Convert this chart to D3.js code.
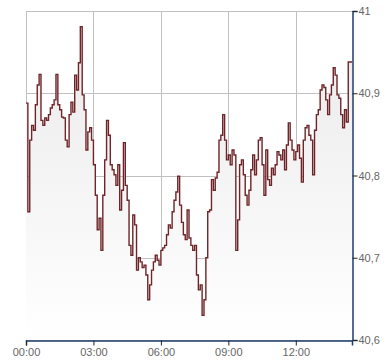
<!DOCTYPE html>
<html>
<head>
<meta charset="utf-8">
<script src="https://cdn.jsdelivr.net/npm/d3@7"></script>
<style>
  body { margin: 0; background: #fff; }
  text { font-family: "Liberation Sans", Arial, sans-serif; }
</style>
</head>
<body>
<svg id="chart" width="390" height="364"></svg>
<script>
  // minutes since 00:00, one quote every 5 minutes
  var step = 5;
  var prices = [
    40.888, 40.756, 40.843, 40.861, 40.855, 40.886, 40.910, 40.923, 40.867, 40.861,
    40.870, 40.867, 40.874, 40.882, 40.886, 40.892, 40.923, 40.886, 40.880, 40.871,
    40.870, 40.843, 40.835, 40.874, 40.889, 40.877, 40.922, 40.904, 40.937, 40.981,
    40.898, 40.880, 40.831, 40.853, 40.858, 40.843, 40.813, 40.776, 40.734, 40.748,
    40.709, 40.776, 40.819, 40.867, 40.849, 40.813, 40.807, 40.801, 40.788, 40.813,
    40.758, 40.782, 40.840, 40.788, 40.770, 40.715, 40.703, 40.752, 40.740, 40.685,
    40.700, 40.695, 40.688, 40.691, 40.679, 40.649, 40.667, 40.685, 40.695, 40.703,
    40.697, 40.691, 40.709, 40.712, 40.715, 40.728, 40.740, 40.736, 40.756, 40.770,
    40.780, 40.799, 40.764, 40.743, 40.728, 40.722, 40.758, 40.724, 40.715, 40.709,
    40.715, 40.679, 40.661, 40.667, 40.630, 40.649, 40.700, 40.756, 40.758, 40.795,
    40.782, 40.797, 40.804, 40.843, 40.849, 40.874, 40.843, 40.819, 40.825, 40.813,
    40.831, 40.825, 40.709, 40.746, 40.813, 40.819, 40.801, 40.776, 40.764, 40.782,
    40.807, 40.825, 40.801, 40.819, 40.843, 40.846, 40.813, 40.776, 40.831, 40.795,
    40.788, 40.809, 40.801, 40.813, 40.829, 40.825, 40.819, 40.831, 40.807, 40.837,
    40.864, 40.843, 40.831, 40.819, 40.829, 40.837, 40.821, 40.792, 40.843, 40.858,
    40.861, 40.849, 40.843, 40.801, 40.855, 40.874, 40.880, 40.904, 40.910, 40.907,
    40.892, 40.874, 40.898, 40.910, 40.931, 40.922, 40.898, 40.894, 40.874, 40.858,
    40.880, 40.865, 40.938
  ];
  var yTicks = [40.6, 40.7, 40.8, 40.9, 41];
  var xTicks = [0, 180, 360, 540, 720];
  var xTickLabels = ["00:00", "03:00", "06:00", "09:00", "12:00"];

  var data = prices.map(function (v, i) { return { t: i * step, v: v }; });

  var plotLeft = 26, plotRight = 352, plotTop = 11, plotBottom = 340;

  var svg = d3.select("#chart");

  var x = d3.scaleLinear().domain([0, 870]).range([plotLeft, plotRight]);
  var y = d3.scaleLinear().domain([40.6, 41]).range([plotBottom, plotTop]);

  var defs = svg.append("defs");
  var grad = defs.append("linearGradient")
      .attr("id", "fillGrad")
      .attr("gradientUnits", "userSpaceOnUse")
      .attr("x1", 0).attr("y1", plotTop).attr("x2", 0).attr("y2", plotBottom);
  grad.append("stop").attr("offset", 0).attr("stop-color", "#e9e9e9");
  grad.append("stop").attr("offset", 1).attr("stop-color", "#ffffff");

  // grid
  svg.append("g").selectAll("line").data(yTicks).enter()
      .append("line")
      .attr("x1", plotLeft).attr("x2", plotRight)
      .attr("y1", function (d) { return Math.round(y(d)) + 0.5; })
      .attr("y2", function (d) { return Math.round(y(d)) + 0.5; })
      .attr("stroke", "#c0c0c0");
  svg.append("g").selectAll("line").data(xTicks).enter()
      .append("line")
      .attr("y1", plotTop).attr("y2", plotBottom)
      .attr("x1", function (d) { return Math.round(x(d)) + 0.5; })
      .attr("x2", function (d) { return Math.round(x(d)) + 0.5; })
      .attr("stroke", "#c0c0c0");

  var area = d3.area()
      .curve(d3.curveStepAfter)
      .x(function (d) { return x(d.t); })
      .y0(plotBottom)
      .y1(function (d) { return y(d.v); });
  var line = d3.line()
      .curve(d3.curveStepAfter)
      .x(function (d) { return x(d.t); })
      .y(function (d) { return y(d.v); });

  var series = data.concat([{ t: 870, v: prices[prices.length - 1] }]);

  svg.append("path")
      .attr("d", area(series))
      .attr("fill", "url(#fillGrad)");
  svg.append("path")
      .attr("d", line(series))
      .attr("fill", "none")
      .attr("stroke", "#6e2428")
      .attr("stroke-width", 1.4);

  // axes
  var yAxis = d3.axisRight(y).tickValues(yTicks).tickSize(5).tickPadding(1)
      .tickFormat(function (d) { return d3.format(".1f")(d).replace(".0", "").replace(".", ","); });
  var gy = svg.append("g").attr("transform", "translate(" + (plotRight + 0.5) + ",0)").call(yAxis);
  gy.select(".domain").attr("stroke", "#1c3c6c").attr("stroke-width", 1.5);
  gy.selectAll(".tick line").attr("stroke", "#222");
  gy.selectAll("text").attr("fill", "#666").style("font-size", "11px");

  var xAxis = d3.axisBottom(x).tickValues(xTicks).tickSize(5).tickPadding(3)
      .tickFormat(function (d, i) { return xTickLabels[i]; });
  var gx = svg.append("g").attr("transform", "translate(0," + (plotBottom + 0.5) + ")").call(xAxis);
  gx.select(".domain").attr("stroke", "#1c3c6c").attr("stroke-width", 1.5);
  gx.selectAll(".tick line").attr("stroke", "#222");
  gx.selectAll("text").attr("fill", "#666").style("font-size", "11px");
</script>
</body>
</html>
